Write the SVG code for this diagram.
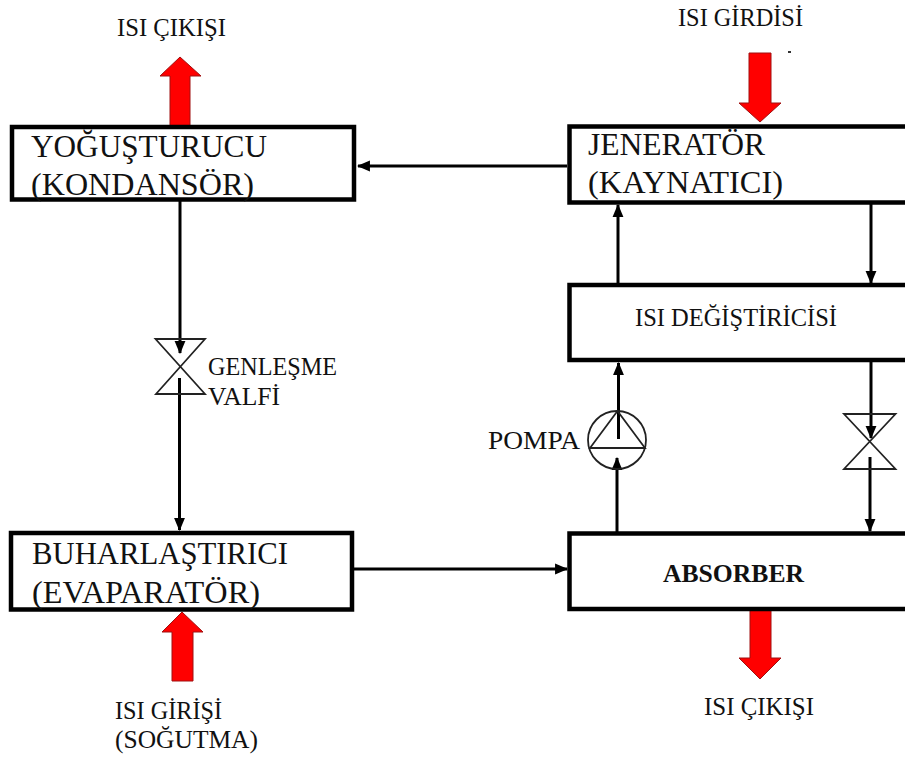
<svg xmlns="http://www.w3.org/2000/svg" width="905" height="758" viewBox="0 0 905 758">
<style>
text{font-family:"Liberation Serif","Times New Roman",serif;fill:#111}
.big{font-size:31px}.sm{font-size:24.500px}
.box{fill:#fff;stroke:#000;stroke-width:4.500}
.lg{stroke:#000;stroke-width:3;fill:none}
.thin{stroke:#222;stroke-width:1.800;fill:none}
.heat{fill:#f00;stroke:#a01010;stroke-width:1}
</style>
<defs>
<marker id="ah" viewBox="0 0 12 12" refX="11" refY="6" markerWidth="13" markerHeight="13" markerUnits="userSpaceOnUse" orient="auto"><path d="M0 1L12 6L0 11Z" fill="#000"/></marker>
</defs>
<rect width="905" height="758" fill="#fff"/>
<g id="connectors">
<path class="lg" d="M180 201V353" marker-end="url(#ah)"/>
<path class="lg" d="M179.500 378V530" marker-end="url(#ah)"/>
<path class="lg" d="M567 166H358" marker-end="url(#ah)"/>
<path class="lg" d="M353 569H567" marker-end="url(#ah)"/>
<path class="lg" d="M618 284V205" marker-end="url(#ah)"/>
<path class="lg" d="M871 204V283" marker-end="url(#ah)"/>
<path class="lg" d="M618.500 439V363" marker-end="url(#ah)"/>
<path class="lg" d="M617 532V458" marker-end="url(#ah)"/>
<path class="lg" d="M871 361V438" marker-end="url(#ah)"/>
<path class="lg" d="M870 457V531" marker-end="url(#ah)"/>
</g>
<g id="heat-out-top"><path class="heat" d="M170 127V76H160L180 57L201 76H190V127Z"/><text class="sm" x="117" y="36" textLength="109" lengthAdjust="spacingAndGlyphs">ISI ÇIKIŞI</text></g>
<g id="heat-in-top"><path class="heat" d="M749 53H771V103H781L760 122L739 103H749Z"/><rect x="788" y="51" width="3" height="2" fill="#333"/><text class="sm" x="678" y="26" textLength="125" lengthAdjust="spacingAndGlyphs">ISI GİRDİSİ</text></g>
<g id="heat-in-bottom"><path class="heat" d="M172 681V632H162L182 612L203 632H193V681Z"/><text class="sm" x="115" y="719" textLength="107" lengthAdjust="spacingAndGlyphs">ISI GİRİŞİ</text><text class="sm" x="115" y="748" textLength="143" lengthAdjust="spacingAndGlyphs">(SOĞUTMA)</text></g>
<g id="heat-out-bottom"><path class="heat" d="M750 610H771V658H781L760 679L739 658H750Z"/><text class="sm" x="704" y="715" textLength="110" lengthAdjust="spacingAndGlyphs">ISI ÇIKIŞI</text></g>
<g id="condenser"><rect class="box" x="12" y="127" width="342" height="72.500"/><text class="big" x="31" y="157" textLength="236" lengthAdjust="spacingAndGlyphs">YOĞUŞTURUCU</text><text class="big" x="31" y="195" textLength="223" lengthAdjust="spacingAndGlyphs">(KONDANSÖR)</text></g>
<g id="generator"><rect class="box" x="569.500" y="126.500" width="345" height="76"/><text class="big" x="588" y="155" textLength="177" lengthAdjust="spacingAndGlyphs">JENERATÖR</text><text class="big" x="588" y="193" textLength="195" lengthAdjust="spacingAndGlyphs">(KAYNATICI)</text></g>
<g id="heat-exchanger"><rect class="box" x="569.500" y="285" width="345" height="75"/><text class="sm" x="635" y="326" textLength="202" lengthAdjust="spacingAndGlyphs">ISI DEĞİŞTİRİCİSİ</text></g>
<g id="evaporator"><rect class="box" x="11" y="533" width="341" height="76.500"/><text class="big" x="32" y="564" textLength="256" lengthAdjust="spacingAndGlyphs">BUHARLAŞTIRICI</text><text class="big" x="32" y="603" textLength="228" lengthAdjust="spacingAndGlyphs">(EVAPARATÖR)</text></g>
<g id="absorber"><rect class="box" x="569.500" y="533.500" width="345" height="75.500"/><text class="sm" x="663" y="582" font-weight="700" textLength="141" lengthAdjust="spacingAndGlyphs">ABSORBER</text></g>
<g id="expansion-valve"><path class="thin" d="M155.500 339H205L156 394H205Z"/><text class="sm" x="208" y="375" textLength="129" lengthAdjust="spacingAndGlyphs">GENLEŞME</text><text class="sm" x="208" y="405" textLength="72" lengthAdjust="spacingAndGlyphs">VALFİ</text></g>
<g id="pump"><circle class="thin" cx="617" cy="440" r="29"/><path class="thin" d="M617.500 411L590 448H645Z"/><text class="sm" x="488" y="449" textLength="92" lengthAdjust="spacingAndGlyphs">POMPA</text></g>
<g id="valve-2"><path class="thin" d="M844 414H895.500L844 469H895.500Z"/></g>
</svg>
